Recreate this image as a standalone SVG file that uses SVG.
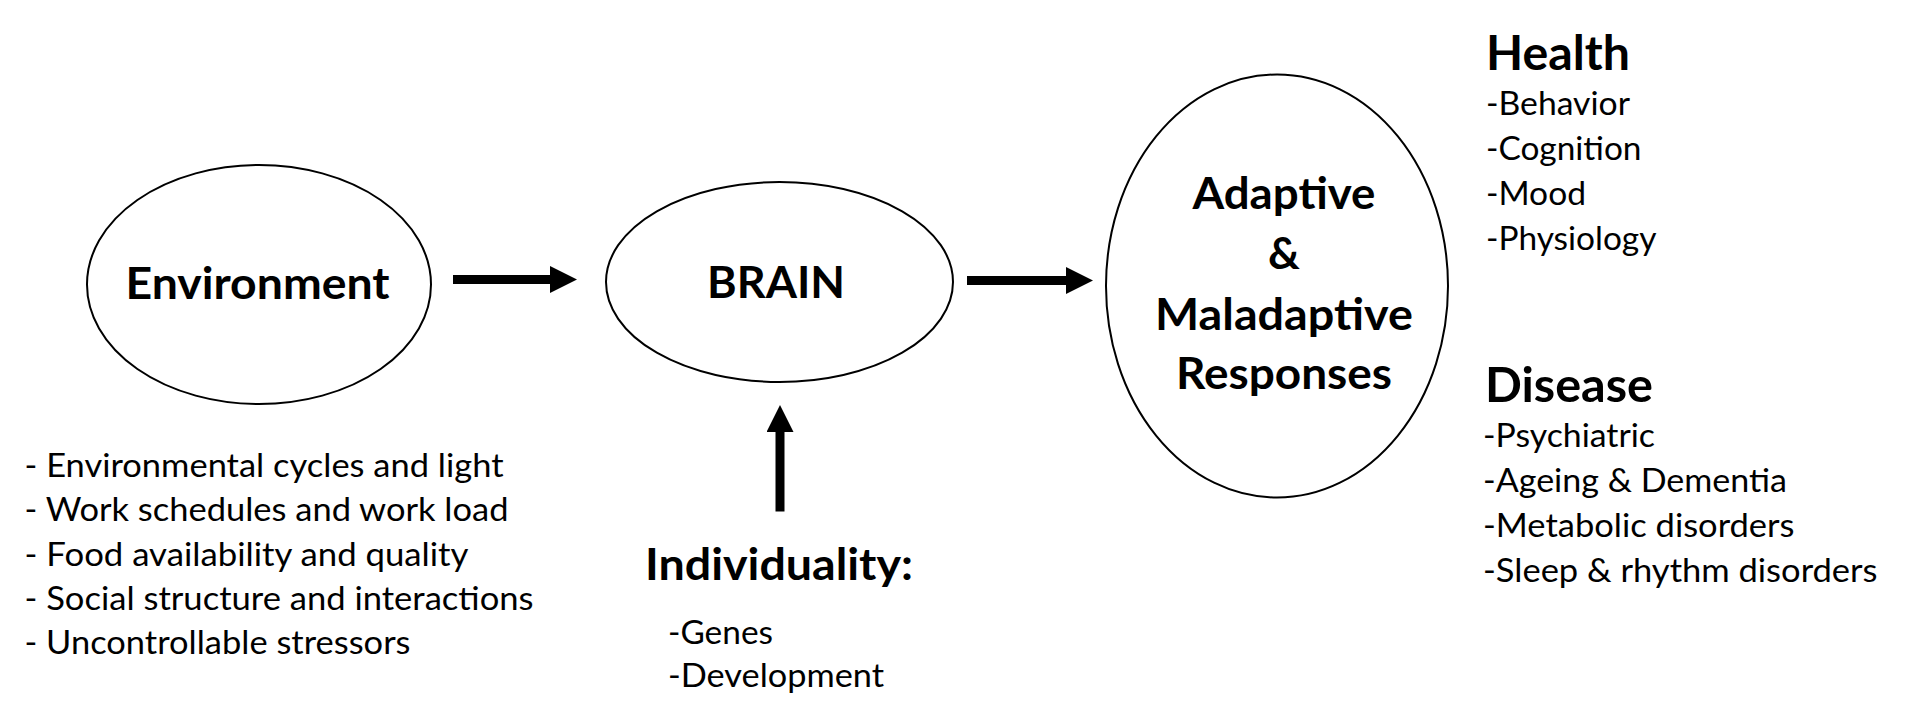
<svg xmlns="http://www.w3.org/2000/svg" width="1930" height="722" viewBox="0 0 1930 722">
<style>
.node{fill:#fff;stroke:#000;stroke-width:2}
.b{font-family:Lato,"Open Sans","Liberation Sans",sans-serif;font-weight:700;font-size:44px;fill:#000}
.h{font-family:Lato,"Open Sans","Liberation Sans",sans-serif;font-weight:700;font-size:47.5px;fill:#000}
.r{font-family:Lato,"Open Sans","Liberation Sans",sans-serif;font-weight:400;font-size:33px;fill:#000}
.c{text-anchor:middle}
.conn{stroke:#000;stroke-width:9;fill:none}
</style>
<defs>
<marker id="ah" viewBox="0 0 27 27" refX="0" refY="13.5" markerWidth="27" markerHeight="27" markerUnits="userSpaceOnUse" orient="auto">
<path d="M0,0 L27,13.5 L0,27 z" fill="#000"/>
</marker>
</defs>
<rect width="1930" height="722" fill="#fff"/>
<g id="connectors">
<line class="conn" x1="453" y1="279.5" x2="550" y2="279.5" marker-end="url(#ah)"/>
<line class="conn" x1="967" y1="280.5" x2="1066" y2="280.5" marker-end="url(#ah)"/>
<line class="conn" x1="780" y1="511.5" x2="780" y2="432" marker-end="url(#ah)"/>
</g>
<g id="environment">
<ellipse class="node" cx="259" cy="284.5" rx="172" ry="119.5"/>
<text class="b c" x="257.5" y="299" textLength="264" lengthAdjust="spacingAndGlyphs">Environment</text>
</g>
<g id="brain">
<ellipse class="node" cx="779.5" cy="282" rx="173.5" ry="100"/>
<text class="b c" x="776" y="298" textLength="138" lengthAdjust="spacingAndGlyphs">BRAIN</text>
</g>
<g id="responses">
<ellipse class="node" cx="1277" cy="286" rx="171" ry="211.5"/>
<text class="b c" x="1284" y="208.5" textLength="183" lengthAdjust="spacingAndGlyphs">Adaptive</text>
<text class="b c" x="1284" y="268.5">&amp;</text>
<text class="b c" x="1284" y="329.5" textLength="258" lengthAdjust="spacingAndGlyphs">Maladaptive</text>
<text class="b c" x="1284" y="388.5" textLength="216" lengthAdjust="spacingAndGlyphs">Responses</text>
</g>
<g id="environment-factors">
<text class="r" x="24.5" y="477" textLength="479" lengthAdjust="spacingAndGlyphs">- Environmental cycles and light</text>
<text class="r" x="24.5" y="521" textLength="484" lengthAdjust="spacingAndGlyphs">- Work schedules and work load</text>
<text class="r" x="24.5" y="565.5" textLength="444" lengthAdjust="spacingAndGlyphs">- Food availability and quality</text>
<text class="r" x="24.5" y="610" textLength="509" lengthAdjust="spacingAndGlyphs">- Social structure and interactions</text>
<text class="r" x="24.5" y="654" textLength="386" lengthAdjust="spacingAndGlyphs">- Uncontrollable stressors</text>
</g>
<g id="individuality">
<text class="b" x="645" y="580" textLength="268" lengthAdjust="spacingAndGlyphs">Individuality:</text>
<text class="r" x="668" y="643.5" textLength="105" lengthAdjust="spacingAndGlyphs">-Genes</text>
<text class="r" x="668" y="687" textLength="216" lengthAdjust="spacingAndGlyphs">-Development</text>
</g>
<g id="health">
<text class="h" x="1486" y="69.5" textLength="144" lengthAdjust="spacingAndGlyphs">Health</text>
<text class="r" x="1486" y="115" textLength="144" lengthAdjust="spacingAndGlyphs">-Behavior</text>
<text class="r" x="1486" y="160" textLength="155.5" lengthAdjust="spacingAndGlyphs">-Cognition</text>
<text class="r" x="1486" y="204.5" textLength="100" lengthAdjust="spacingAndGlyphs">-Mood</text>
<text class="r" x="1486" y="249.5" textLength="170.5" lengthAdjust="spacingAndGlyphs">-Physiology</text>
</g>
<g id="disease">
<text class="h" x="1485" y="401.5" textLength="168" lengthAdjust="spacingAndGlyphs">Disease</text>
<text class="r" x="1483" y="446.5" textLength="172" lengthAdjust="spacingAndGlyphs">-Psychiatric</text>
<text class="r" x="1483" y="491.5" textLength="304" lengthAdjust="spacingAndGlyphs">-Ageing &amp; Dementia</text>
<text class="r" x="1483" y="536.5" textLength="311.5" lengthAdjust="spacingAndGlyphs">-Metabolic disorders</text>
<text class="r" x="1483" y="581.5" textLength="394.5" lengthAdjust="spacingAndGlyphs">-Sleep &amp; rhythm disorders</text>
</g>
</svg>
